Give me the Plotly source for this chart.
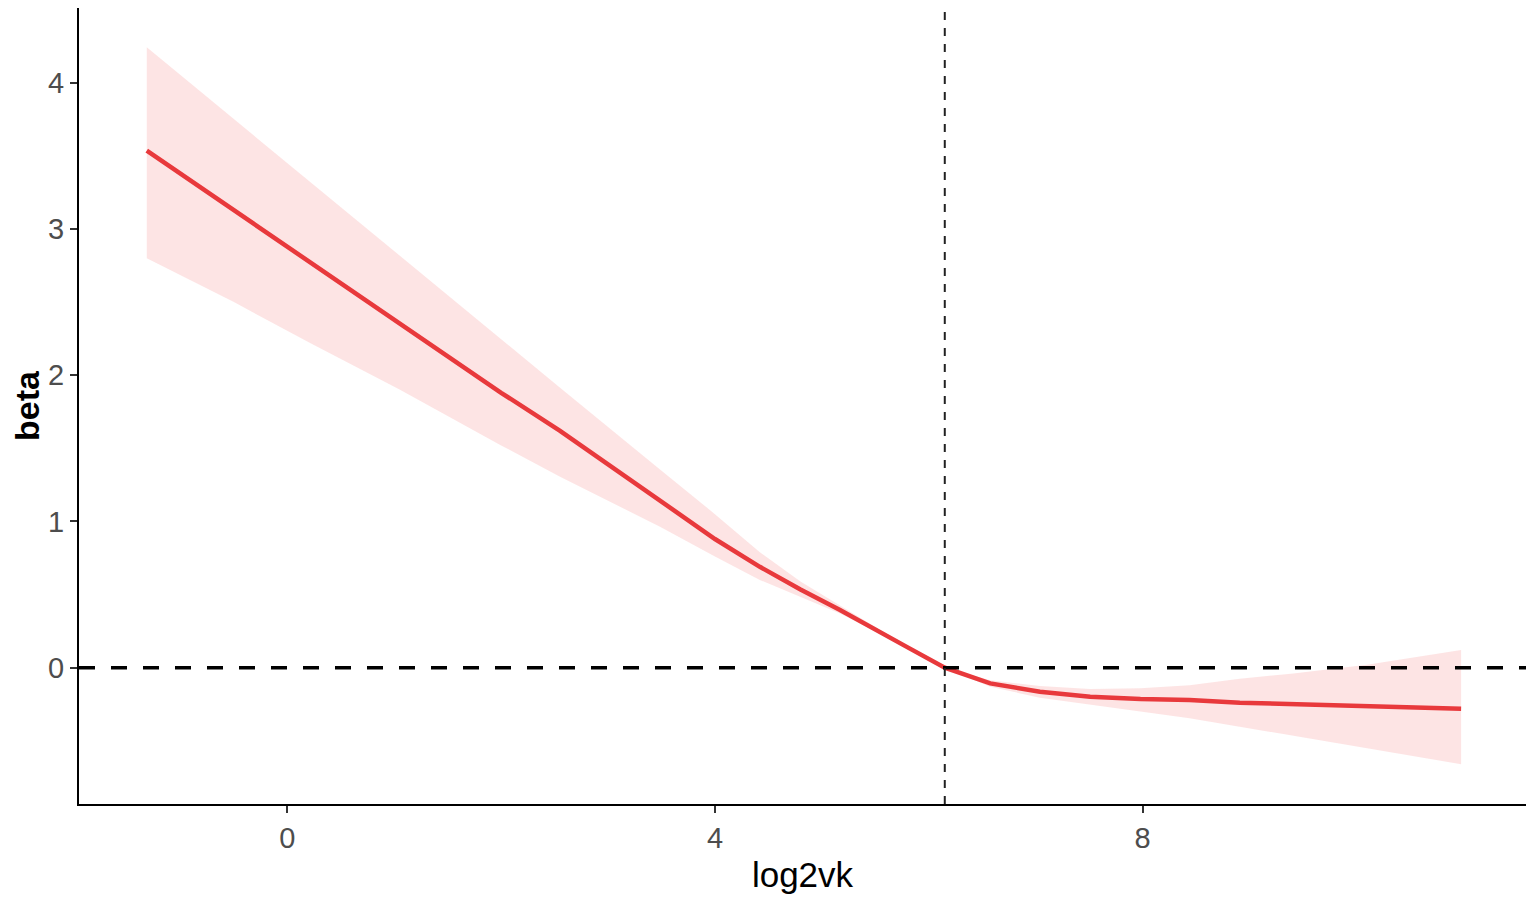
import plotly.graph_objects as go

# ---- data ----
log2vk = [-1.315, -0.5, 0.213, 1.054, 2.0, 2.551, 3.486, 4.0, 4.42, 4.8, 5.17, 5.5, 5.79,
          6.15, 6.575, 7.04, 7.51, 7.98, 8.44, 8.91, 9.41, 10.10, 10.5, 10.98]
beta = [3.535, 3.13, 2.77, 2.35, 1.88, 1.62, 1.147, 0.88, 0.69, 0.535, 0.395, 0.265, 0.144,
        0.0, -0.107, -0.164, -0.198, -0.214, -0.221, -0.239, -0.248, -0.267, -0.273, -0.28]
beta_upper = [4.242, 3.75, 3.32, 2.815, 2.245, 1.915, 1.355, 1.05, 0.79, 0.59, 0.425, 0.28, 0.15,
              0.0, -0.085, -0.125, -0.145, -0.14, -0.12, -0.075, -0.04, 0.02, 0.065, 0.121]
beta_lower = [2.80, 2.50, 2.22, 1.90, 1.52, 1.306, 0.964, 0.76, 0.60, 0.485, 0.37, 0.25, 0.138,
              0.0, -0.13, -0.205, -0.255, -0.30, -0.345, -0.40, -0.465, -0.55, -0.60, -0.66]
x_ref = 6.15
y_ref = 0
x_ticks = [0, 4, 8]
y_ticks = [0, 1, 2, 3, 4]

FONT = "Liberation Sans, Arial, Helvetica, sans-serif"

fig = go.Figure()
fig.add_trace(go.Scatter(
    x=log2vk + log2vk[::-1],
    y=beta_upper + beta_lower[::-1],
    fill="toself", fillcolor="rgba(245,90,90,0.16)",
    line=dict(width=0), mode="lines", hoverinfo="skip", showlegend=False))
fig.add_trace(go.Scatter(
    x=log2vk, y=beta, mode="lines",
    line=dict(color="#e8393c", width=4.5), showlegend=False))

fig.add_hline(y=y_ref, line=dict(color="black", width=3.5, dash="16px,16px"))
fig.add_vline(x=x_ref, line=dict(color="#222222", width=2, dash="8px,8px"))

axis_common = dict(
    showline=True, linecolor="black", linewidth=2,
    ticks="outside", ticklen=7, tickwidth=1.5, tickcolor="#333333",
    tickfont=dict(family=FONT, size=29, color="#4d4d4d"),
    showgrid=False, zeroline=False, automargin=False,
)

# page body has an 8px margin; figure is sized/offset to compensate
fig.update_layout(
    width=1527, height=893,
    margin=dict(l=71, r=9, t=0, b=97),
    paper_bgcolor="white", plot_bgcolor="white",
    font=dict(family=FONT),
    xaxis=dict(range=[-1.949, 11.587], tickvals=x_ticks,
               title=dict(text="log2vk", font=dict(family=FONT, size=35, color="black"), standoff=10),
               **axis_common),
    yaxis=dict(range=[-0.932, 4.511], tickvals=y_ticks,
               title=dict(text="<b>beta</b>", font=dict(family=FONT, size=34, color="black"), standoff=0),
               **axis_common),
)

fig.write_html("out.html", config={"displayModeBar": False})
